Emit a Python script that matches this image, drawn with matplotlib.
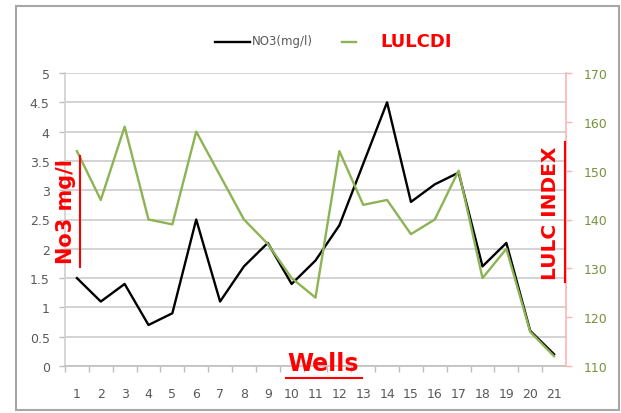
import matplotlib
matplotlib.use("Agg")
import matplotlib.pyplot as plt
from matplotlib.lines import Line2D
from matplotlib.patches import Rectangle

wells = list(range(1, 22))
no3 = [1.5, 1.1, 1.4, 0.7, 0.9, 2.5, 1.1, 1.7, 2.1, 1.4, 1.8,
       2.4, 3.45, 4.5, 2.8, 3.1, 3.3, 1.7, 2.1, 0.6, 0.2]
lulcdi = [154, 144, 159, 140, 139, 158, 149, 140, 135, 128, 124,
          154, 143, 144, 137, 140, 150, 128, 134, 117, 112]
left_ticks = [0, 0.5, 1, 1.5, 2, 2.5, 3, 3.5, 4, 4.5, 5]
right_ticks = [110, 120, 130, 140, 150, 160, 170]

GRAY = "#595959"
GREEN = "#8DB354"
RED = "#FF0000"

plt.rcParams["font.family"] = ["DejaVu Sans"]

fig = plt.figure(figsize=(6.21, 4.14), dpi=100)
W, H = 621, 414
ax = fig.add_axes([65 / W, 1 - 367 / H, (566 - 65) / W, (367 - 74) / H])

ax.plot(wells, no3, color="black", lw=1.7, zorder=3)
ax.set_xlim(0.5, 21.5)
ax.set_ylim(0, 5)
ax.set_yticks(left_ticks)
ax.set_yticklabels([f"{t:g}" for t in left_ticks])
ax.set_xticks(wells)
ax.set_xticks([w + 0.5 for w in wells[:-1]] + [0.5], minor=True)
ax.grid(axis="y", color="#d0d0d0", lw=1.3, zorder=0)
ax.tick_params(axis="x", which="major", length=0, pad=15, labelsize=9,
               labelcolor=GRAY)
ax.tick_params(axis="x", which="minor", length=4, color="#bfbfbf", width=1)
ax.tick_params(axis="y", length=4, color="#bfbfbf", width=1, pad=7,
               labelsize=9, labelcolor=GRAY)
for s in ["top", "right"]:
    ax.spines[s].set_visible(False)
ax.spines["left"].set_color("#d0d0d0")
ax.spines["bottom"].set_color("#bfbfbf")
ax.spines["left"].set_linewidth(1.2)
ax.spines["bottom"].set_linewidth(1.2)

ax2 = ax.twinx()
ax2.plot(wells, lulcdi, color=GREEN, lw=1.7, zorder=3)
ax2.set_ylim(110, 170)
ax2.set_yticks(right_ticks)
ax2.tick_params(axis="y", length=4, color="#ffb3b3", width=1, pad=9,
                labelsize=9, labelcolor="#76923C")
for s in ["top", "left", "bottom"]:
    ax2.spines[s].set_visible(False)
ax2.spines["right"].set_color("#ffb3b3")
ax2.spines["right"].set_linewidth(1.2)

# axis titles (red, bold, underlined)
fig.text(66 / W, 1 - 212 / H, "No3 mg/l", color=RED, fontsize=15,
         fontweight="bold", rotation=90, ha="center", va="center")
fig.add_artist(Line2D([80 / W, 80 / W], [1 - 157 / H, 1 - 268 / H],
                      color=RED, lw=1.5))
fig.text(550 / W, 1 - 213 / H, "LULC INDEX", color=RED, fontsize=14.5,
         fontweight="bold", rotation=90, ha="center", va="center")
fig.add_artist(Line2D([565 / W, 565 / W], [1 - 143 / H, 1 - 283 / H],
                      color=RED, lw=1.5))
fig.text(323 / W, 1 - 364 / H, "Wells", color=RED, fontsize=17,
         fontweight="bold", ha="center", va="center")
fig.add_artist(Line2D([286 / W, 362 / W], [1 - 379 / H, 1 - 379 / H],
                      color=RED, lw=1.5))

# legend
fig.add_artist(Line2D([215 / W, 250 / W], [1 - 43 / H, 1 - 43 / H],
                      color="black", lw=1.7))
fig.text(252 / W, 1 - 42 / H, "NO3(mg/l)", color=GRAY, fontsize=8.5,
         ha="left", va="center")
fig.add_artist(Line2D([342 / W, 356 / W], [1 - 43 / H, 1 - 43 / H],
                      color=GREEN, lw=1.7))
fig.text(380 / W, 1 - 42 / H, "LULCDI", color=RED, fontsize=13,
         fontweight="bold", ha="left", va="center")

# chart border
fig.add_artist(Rectangle((16 / W, 1 - 411 / H), (619 - 16) / W,
                         (411 - 7) / H, fill=False, edgecolor="#a6a6a6",
                         lw=1.5, transform=fig.transFigure))

fig.savefig("out.png", dpi=100)
